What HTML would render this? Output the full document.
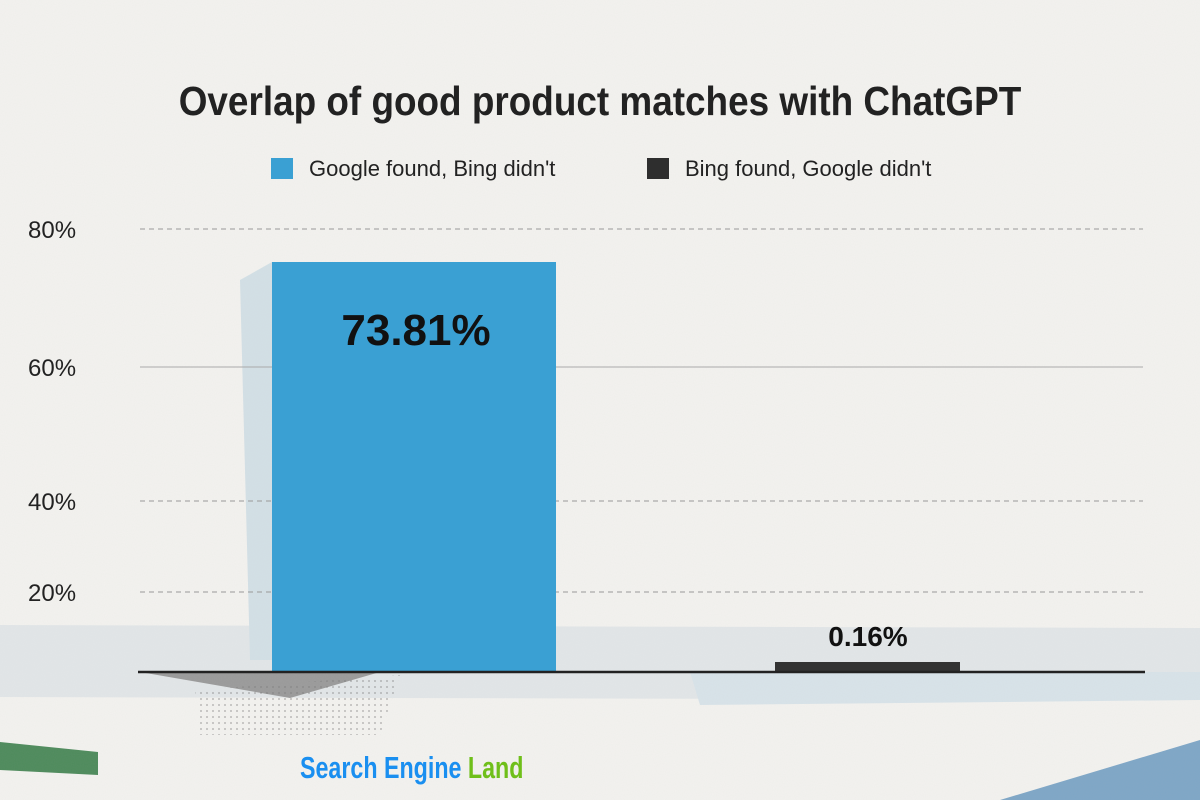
<!DOCTYPE html>
<html><head><meta charset="utf-8"><style>
html,body{margin:0;padding:0;width:1200px;height:800px;overflow:hidden;background:#f3f2ef}
</style></head><body>
<svg width="1200" height="800" viewBox="0 0 1200 800" xmlns="http://www.w3.org/2000/svg">
<defs>
<filter id="n"><feTurbulence type="fractalNoise" baseFrequency="0.9" numOctaves="2" seed="3"/><feColorMatrix values="0 0 0 0 0.5 0 0 0 0 0.5 0 0 0 0 0.5 0 0 0 0.08 0"/></filter>
<pattern id="dots" width="6" height="6" patternUnits="userSpaceOnUse"><circle cx="3" cy="3" r="0.9" fill="#777"/></pattern>
</defs>
<rect width="1200" height="800" fill="#f3f2ef"/>
<polygon points="0,625 1200,628 1200,700 0,697" fill="#e2e6e8"/>
<polygon points="240,280 272,262 272,660 250,660" fill="#d3e0e6"/>
<polygon points="690,672 1200,672 1200,700 700,705" fill="#d8e3e9"/>
<polygon points="140,672 380,672 290,698" fill="#9a9a9a"/>
<polygon points="195,690 400,675 380,735 200,735" fill="url(#dots)" opacity="0.6"/>
<polygon points="0,742 98,752 98,775 0,770" fill="#4d8a5b"/>
<polygon points="1000,800 1200,740 1200,800" fill="#7ea6c6"/>
<rect width="1200" height="800" filter="url(#n)"/>
<text x="600" y="115" text-anchor="middle" font-family="Liberation Sans Narrow, Liberation Sans, sans-serif" font-weight="bold" font-size="41" fill="#222" transform="translate(600 0) scale(0.9 1) translate(-600 0)">Overlap of good product matches with ChatGPT</text>
<rect x="271" y="158" width="22" height="21" fill="#3aa0d3"/>
<text x="309" y="176" font-family="Liberation Sans, sans-serif" font-size="22" fill="#222">Google found, Bing didn't</text>
<rect x="647" y="158" width="22" height="21" fill="#2e2e2e"/>
<text x="685" y="176" font-family="Liberation Sans, sans-serif" font-size="22" fill="#222">Bing found, Google didn't</text>
<g stroke="#999" stroke-width="1" stroke-dasharray="5,4">
<line x1="140" y1="229" x2="1143" y2="229"/>
<line x1="140" y1="367" x2="1143" y2="367" stroke-dasharray="none" stroke="#aaa"/>
<line x1="140" y1="501" x2="1143" y2="501"/>
<line x1="140" y1="592" x2="1143" y2="592"/>
</g>
<g font-family="Liberation Sans, sans-serif" font-size="24" fill="#222">
<text x="28" y="238">80%</text>
<text x="28" y="376">60%</text>
<text x="28" y="510">40%</text>
<text x="28" y="601">20%</text>
</g>
<rect x="272" y="262" width="284" height="410" fill="#3aa0d3"/>
<rect x="775" y="662" width="185" height="10" fill="#333"/>
<line x1="138" y1="672" x2="1145" y2="672" stroke="#222" stroke-width="2.5"/>
<text x="416" y="345" text-anchor="middle" font-family="Liberation Sans, sans-serif" font-weight="bold" font-size="44" fill="#111">73.81%</text>
<text x="868" y="646" text-anchor="middle" font-family="Liberation Sans, sans-serif" font-weight="bold" font-size="28" fill="#111">0.16%</text>
<text x="300" y="778" font-family="Liberation Sans Narrow, Liberation Sans, sans-serif" font-weight="bold" font-size="31" fill="#1a8ff0" transform="translate(300 0) scale(0.75 1) translate(-300 0)">Search Engine <tspan fill="#6fbf1a">Land</tspan></text>
</svg>
</body></html>
